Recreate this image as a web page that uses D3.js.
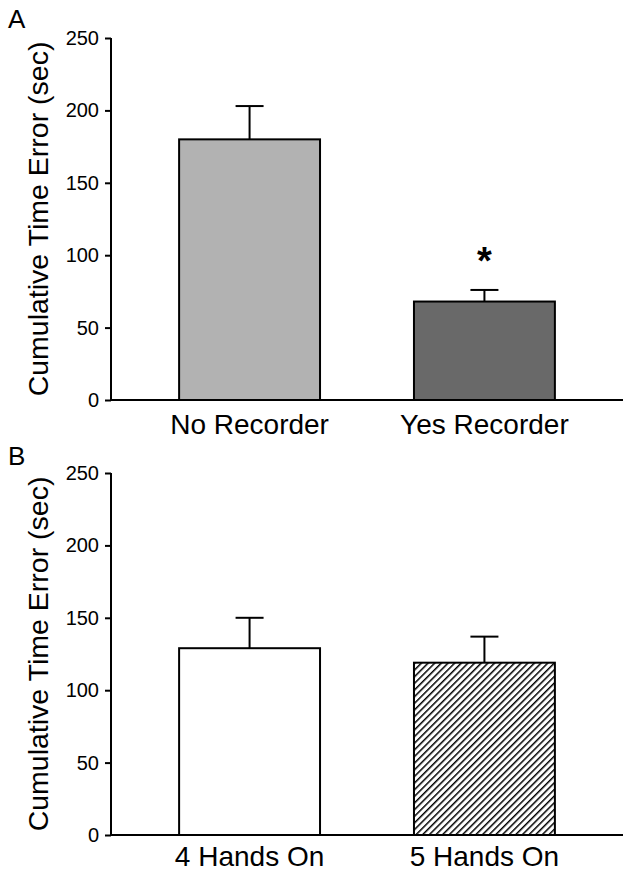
<!DOCTYPE html>
<html>
<head>
<meta charset="utf-8">
<script src="https://cdn.jsdelivr.net/npm/d3@7"></script>
<style>
  body { margin: 0; background: #fff; }
  svg { display: block; font-family: Arial, "Liberation Sans", sans-serif; }
</style>
</head>
<body>
<div class="chart"></div>
<script>
// panel A
var groupsA = ["No Recorder", "Yes Recorder"];
var meansA = [180, 68];
var errorsA = [23, 8];
var fillsA = ["#b2b2b2", "#696969"];
var signifA = [false, true];

// panel B
var groupsB = ["4 Hands On", "5 Hands On"];
var meansB = [129, 119];
var errorsB = [21, 18];
var fillsB = ["#ffffff", "url(#hatch)"];
var signifB = [false, false];

var yTicks = [0, 50, 100, 150, 200, 250];

var W = 623, H = 873;

var svg = d3.select(".chart").append("svg")
  .attr("width", W)
  .attr("height", H);

var defs = svg.append("defs");
var pat = defs.append("pattern")
  .attr("id", "hatch")
  .attr("patternUnits", "userSpaceOnUse")
  .attr("width", 4.7)
  .attr("height", 4.7)
  .attr("patternTransform", "rotate(45)");
pat.append("rect").attr("width", 4.7).attr("height", 4.7).attr("fill", "#fff");
pat.append("line")
  .attr("x1", 0).attr("y1", 0).attr("x2", 0).attr("y2", 4.7)
  .attr("stroke", "#000").attr("stroke-width", 3);

function panel(opts) {
  var top = opts.top, bottom = opts.bottom, left = 111, right = 623;

  var x = d3.scaleBand()
    .domain(opts.groups)
    .range([left, right])
    .paddingInner(0.4)
    .paddingOuter(0.29);

  var y = d3.scaleLinear().domain([0, 250]).range([bottom, top]);

  var g = svg.append("g");

  var rows = opts.groups.map(function (name, i) {
    return { name: name, value: opts.means[i], err: opts.errors[i], fill: opts.fills[i], star: opts.signif[i] };
  });

  // error bars (upper only)
  var eb = g.selectAll(".err").data(rows).enter().append("g").attr("class", "err");
  eb.append("line")
    .attr("x1", function (d) { return x(d.name) + x.bandwidth() / 2; })
    .attr("x2", function (d) { return x(d.name) + x.bandwidth() / 2; })
    .attr("y1", function (d) { return y(d.value); })
    .attr("y2", function (d) { return y(d.value + d.err); })
    .attr("stroke", "#000").attr("stroke-width", 2);
  eb.append("line")
    .attr("x1", function (d) { return x(d.name) + x.bandwidth() / 2 - 14; })
    .attr("x2", function (d) { return x(d.name) + x.bandwidth() / 2 + 14; })
    .attr("y1", function (d) { return y(d.value + d.err); })
    .attr("y2", function (d) { return y(d.value + d.err); })
    .attr("stroke", "#000").attr("stroke-width", 2);

  g.selectAll(".bar").data(rows).enter().append("rect")
    .attr("class", "bar")
    .attr("x", function (d) { return x(d.name); })
    .attr("y", function (d) { return y(d.value); })
    .attr("width", x.bandwidth())
    .attr("height", function (d) { return y(0) - y(d.value); })
    .attr("fill", function (d) { return d.fill; })
    .attr("stroke", "#000")
    .attr("stroke-width", 2);

  g.selectAll(".star").data(rows.filter(function (d) { return d.star; })).enter().append("text")
    .attr("class", "star")
    .attr("x", function (d) { return x(d.name) + x.bandwidth() / 2; })
    .attr("y", function (d) { return y(d.value + d.err) - 16; })
    .attr("text-anchor", "middle")
    .style("font-size", "38px")
    .style("font-weight", "bold")
    .text("*");

  // y axis
  var ya = g.append("g")
    .attr("transform", "translate(" + left + ",0)")
    .call(d3.axisLeft(y).tickValues(yTicks).tickSize(6).tickPadding(6).tickFormat(d3.format("d")));
  ya.select(".domain").attr("d", "M0," + y(250) + "V" + y(0)).attr("stroke-width", 2);
  ya.selectAll(".tick line").attr("stroke-width", 2);
  ya.selectAll(".tick text").style("font-size", "20px").attr("fill", "#000");

  // x axis
  var xa = g.append("g")
    .attr("transform", "translate(0," + bottom + ")")
    .call(d3.axisBottom(x).tickSize(0).tickPadding(opts.pad));
  xa.select(".domain").attr("d", "M" + (left - 1) + ",0H" + right).attr("stroke-width", 2);
  xa.selectAll(".tick text").style("font-size", "28px").attr("fill", "#000");

  g.append("text")
    .attr("transform", "translate(48," + ((top + bottom) / 2) + ") rotate(-90)")
    .attr("text-anchor", "middle")
    .style("font-size", "28.5px")
    .text("Cumulative Time Error (sec)");

  g.append("text")
    .attr("x", 8)
    .attr("y", opts.labelY)
    .style("font-size", "26px")
    .text(opts.label);
}

panel({ top: 38, bottom: 400, pad: 14, groups: groupsA, means: meansA, errors: errorsA, fills: fillsA, signif: signifA, label: "A", labelY: 28 });
panel({ top: 473, bottom: 835, pad: 11, groups: groupsB, means: meansB, errors: errorsB, fills: fillsB, signif: signifB, label: "B", labelY: 465 });
</script>
</body>
</html>
